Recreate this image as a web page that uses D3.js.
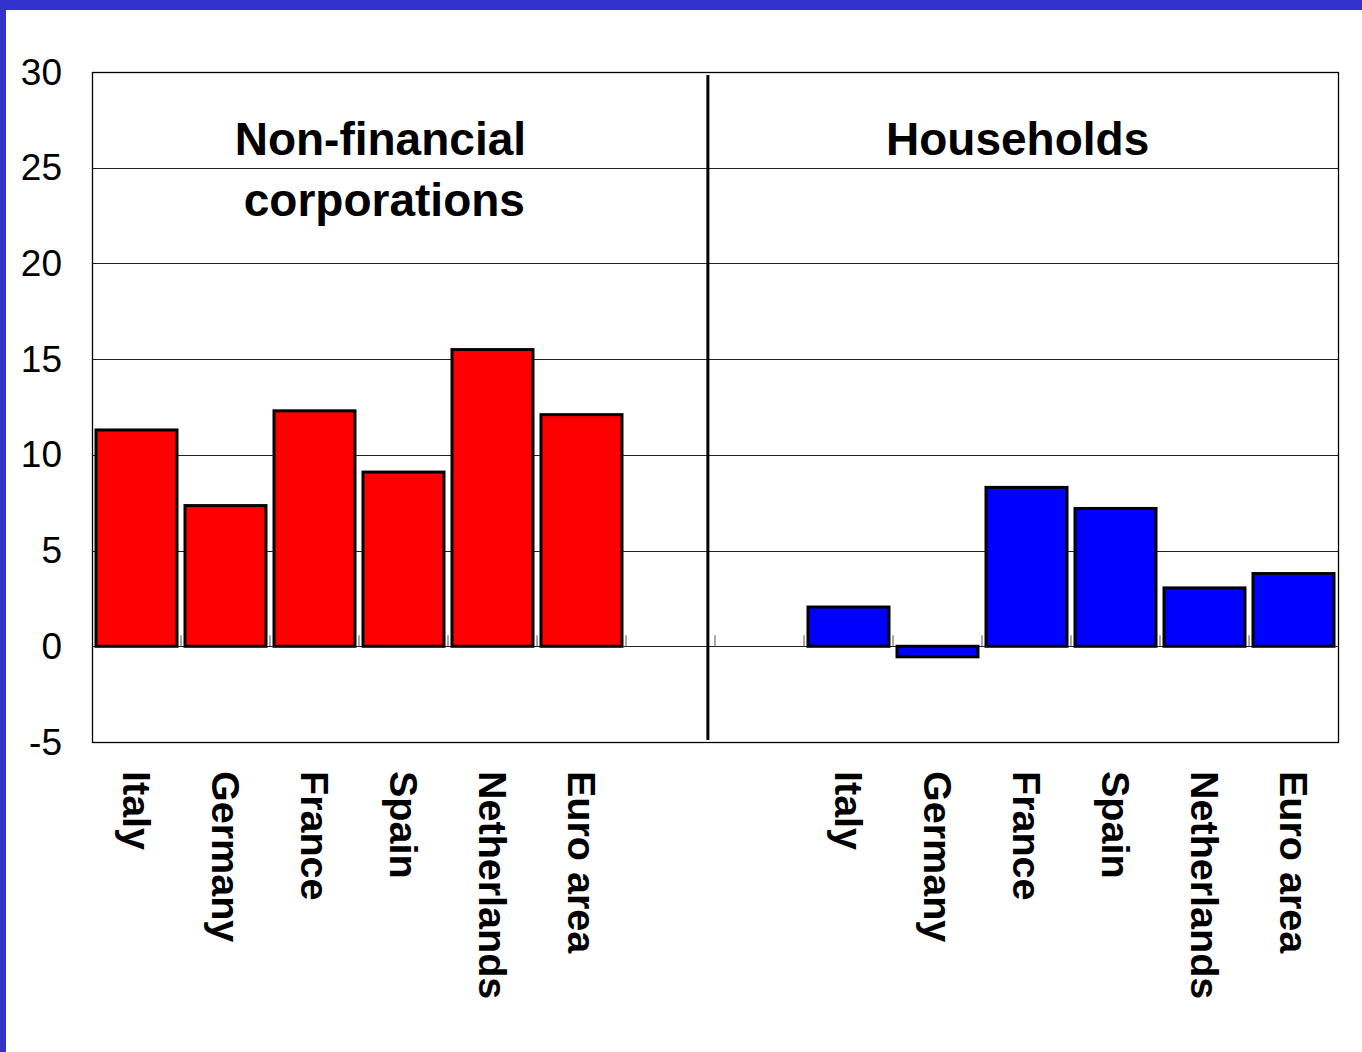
<!DOCTYPE html>
<html>
<head>
<meta charset="utf-8">
<script src="https://cdn.jsdelivr.net/npm/d3@7"></script>
<style>
  html, body { margin: 0; padding: 0; background: #fff; }
  svg { display: block; font-family: "Liberation Sans", Arial, sans-serif; }
</style>
</head>
<body>
<script>
/** Chart data */
const nfcCountries = ["Italy", "Germany", "France", "Spain", "Netherlands", "Euro area"];
const nfcValues = [11.3, 7.35, 12.3, 9.1, 15.5, 12.1];
const hhCountries = ["Italy", "Germany", "France", "Spain", "Netherlands", "Euro area"];
const hhValues = [2.05, -0.55, 8.3, 7.2, 3.05, 3.8];
const yTicks = [-5, 0, 5, 10, 15, 20, 25, 30];
const panelTitles = [["Non-financial", "corporations"], ["Households"]];

/** Layout */
const width = 1362;
const height = 1052;
const plotLeft = 92, plotRight = 1338, plotTop = 72, plotBottom = 742;

var svg, x_scale, y_scale;

// 14 slots: 6 NFC bars, 2 empty slots around the divider, 6 household bars
var slots = nfcCountries.map((c) => "nfc-" + c)
    .concat(["gap-1", "gap-2"])
    .concat(hhCountries.map((c) => "hh-" + c));

var bars = nfcCountries.map((c, i) => ({ key: "nfc-" + c, label: c, value: nfcValues[i], color: "#ff0000" }))
    .concat(hhCountries.map((c, i) => ({ key: "hh-" + c, label: c, value: hhValues[i], color: "#0000ff" })));

svg = d3.select("body").append("svg")
    .attr("width", width)
    .attr("height", height);

// blue frame at top and left
svg.append("rect").attr("x", 0).attr("y", 0).attr("width", width).attr("height", height).attr("fill", "#3333cc");
svg.append("rect").attr("x", 6).attr("y", 10).attr("width", width - 6).attr("height", height - 10).attr("fill", "#fff");

x_scale = d3.scaleBand()
    .domain(slots)
    .range([plotLeft, plotRight])
    .paddingInner(0.09)
    .paddingOuter(0.045);

y_scale = d3.scaleLinear()
    .domain([-5, 30])
    .range([plotBottom, plotTop]);

const step = x_scale.step();

// gridlines
svg.append("g")
    .selectAll("line")
    .data(yTicks.filter((t) => t !== -5 && t !== 30))
    .enter()
    .append("line")
    .attr("x1", plotLeft)
    .attr("x2", plotRight)
    .attr("y1", (d) => Math.round(y_scale(d)) + 0.5)
    .attr("y2", (d) => Math.round(y_scale(d)) + 0.5)
    .attr("stroke", "#222")
    .attr("stroke-width", 1);

// plot border
svg.append("rect")
    .attr("x", plotLeft + 0.5)
    .attr("y", plotTop + 0.5)
    .attr("width", plotRight - plotLeft)
    .attr("height", plotBottom - plotTop)
    .attr("fill", "none")
    .attr("stroke", "#000")
    .attr("stroke-width", 1.3);

// small ticks on the zero line at slot boundaries
svg.append("g")
    .selectAll("line")
    .data(d3.range(1, slots.length))
    .enter()
    .append("line")
    .attr("x1", (i) => plotLeft + i * (plotRight - plotLeft) / slots.length)
    .attr("x2", (i) => plotLeft + i * (plotRight - plotLeft) / slots.length)
    .attr("y1", y_scale(0))
    .attr("y2", y_scale(0) - 11)
    .attr("stroke", "#555")
    .attr("stroke-width", 1);

// bars
svg.append("g")
    .selectAll("rect")
    .data(bars)
    .enter()
    .append("rect")
    .attr("x", (d) => x_scale(d.key))
    .attr("y", (d) => y_scale(Math.max(0, d.value)))
    .attr("width", x_scale.bandwidth())
    .attr("height", (d) => Math.abs(y_scale(d.value) - y_scale(0)))
    .attr("fill", (d) => d.color)
    .attr("stroke", "#000")
    .attr("stroke-width", 3);

// panel divider
const dividerX = plotLeft + step * 6.92;
svg.append("line")
    .attr("x1", dividerX)
    .attr("x2", dividerX)
    .attr("y1", plotTop + 3)
    .attr("y2", plotBottom - 2)
    .attr("stroke", "#000")
    .attr("stroke-width", 3);

// y axis labels
svg.append("g")
    .selectAll("text")
    .data(yTicks)
    .enter()
    .append("text")
    .attr("x", 62)
    .attr("y", (d) => y_scale(d))
    .attr("dy", "0.34em")
    .attr("text-anchor", "end")
    .attr("font-size", 37)
    .attr("fill", "#000")
    .text((d) => d);

// category labels, rotated
svg.append("g")
    .selectAll("text")
    .data(bars)
    .enter()
    .append("text")
    .attr("transform", (d) => "translate(" + (x_scale(d.key) + x_scale.bandwidth() / 2) + ",771) rotate(90)")
    .attr("dy", "0.35em")
    .attr("font-size", 39.5)
    .attr("font-weight", "bold")
    .attr("fill", "#000")
    .text((d) => d.label);

// panel titles
const titleCenters = [plotLeft + step * 3.24, plotLeft + step * 10.4];
panelTitles.forEach((lines, i) => {
    lines.forEach((t, j) => {
        svg.append("text")
            .attr("x", titleCenters[i] + j * 4)
            .attr("y", 155 + j * 61)
            .attr("text-anchor", "middle")
            .attr("font-size", 46)
            .attr("font-weight", "bold")
            .attr("fill", "#000")
            .text(t);
    });
});
</script>
</body>
</html>
